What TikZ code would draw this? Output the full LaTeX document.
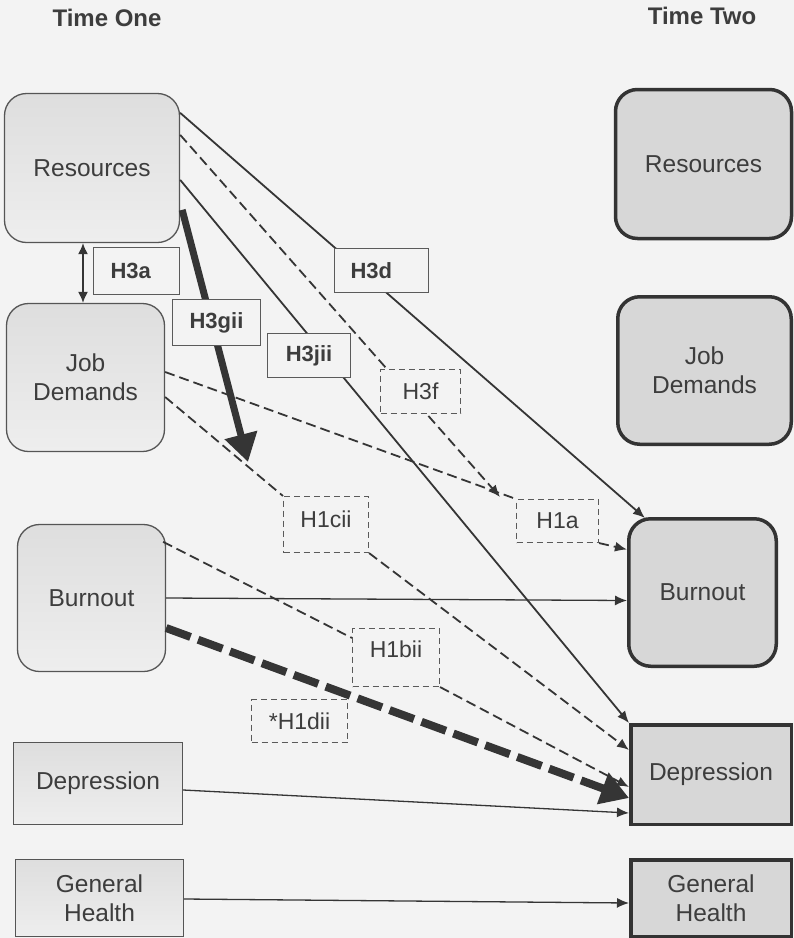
\documentclass[tikz,border=0pt]{standalone}
\usepackage{fontspec}
\setmainfont{Liberation Sans}
\usetikzlibrary{arrows.meta,calc}
\definecolor{bg}{HTML}{F3F3F3}
\definecolor{txt}{HTML}{3D3D3D}
\definecolor{ink}{HTML}{353535}
\definecolor{lfillA}{HTML}{DEDEDE}
\definecolor{lfillB}{HTML}{EEEEEE}
\definecolor{rfill}{HTML}{D7D7D7}
\definecolor{lborder}{HTML}{555555}
\definecolor{rborder}{HTML}{333333}
\definecolor{lab}{HTML}{5A5A5A}

\begin{document}
\begin{tikzpicture}[x=1pt,y=-1pt,
  every node/.style={text=txt, align=center, inner sep=0pt},
  vartext/.style={font=\fontsize{24.5}{29}\selectfont},
  t1round/.style={vartext, draw=lborder, line width=1.3pt, rounded corners=22pt, top color=lfillA, bottom color=lfillB},
  t1rect/.style={vartext, draw=lborder, line width=1.3pt, top color=lfillA, bottom color=lfillB},
  t2round/.style={vartext, draw=rborder, line width=3.5pt, rounded corners=22pt, fill=rfill},
  t2rect/.style={vartext, draw=rborder, line width=3.5pt, fill=rfill},
  hypsolid/.style={font=\fontsize{22}{26}\selectfont\bfseries, draw=lab, line width=1.1pt, fill=bg},
  hypdash/.style={font=\fontsize{23}{26}\selectfont, draw=lab, line width=1.1pt, dash pattern=on 6pt off 4pt, fill=bg},
  title/.style={font=\fontsize{24}{29}\selectfont\bfseries},
  link/.style={draw=ink, line width=1.8pt, -{Latex[length=12pt,width=10pt]}},
  thinlink/.style={link, line width=1.3pt},
  bothlink/.style={draw=ink, line width=1.5pt, {Latex[length=11pt,width=10pt]}-{Latex[length=11pt,width=10pt]}},
  dseg/.style={draw=ink, line width=1.8pt, dash pattern=on 10pt off 5pt},
  dlink/.style={link, dash pattern=on 10pt off 5pt},
  heavy/.style={draw=ink, line width=7pt, -{Triangle[length=28pt,width=32pt]}},
  heavydash/.style={heavy, line width=8pt, dash pattern=on 26pt off 8pt},
]
% page
\fill[bg] (0,0) rectangle (794,938);
\useasboundingbox (0,0) rectangle (794,938);

% column headings
\node[title] (tone) at (107,18) {Time One};
\node[title] (ttwo) at (702,16) {Time Two};

% variables at time one
\node[t1round, minimum width=175pt, minimum height=149pt] (res1) at (92,168) {Resources};
\node[t1round, minimum width=158pt, minimum height=148pt] (jd1) at (85.5,377.5) {Job\\Demands};
\node[t1round, minimum width=148pt, minimum height=147pt] (bo1) at (91.5,598) {Burnout};
\node[t1rect, minimum width=169pt, minimum height=82pt] (dep1) at (98,783.5) {Depression};
\node[t1rect, minimum width=168pt, minimum height=77pt] (gh1) at (99.5,898) {General\\Health};

% variables at time two
\node[t2round, minimum width=176pt, minimum height=149pt] (res2) at (703.5,164) {Resources};
\node[t2round, minimum width=173.5pt, minimum height=147.5pt] (jd2) at (704.5,370.5) {Job\\Demands};
\node[t2round, minimum width=147.5pt, minimum height=147.5pt] (bo2) at (702.5,592.5) {Burnout};
\node[t2rect, minimum width=160.5pt, minimum height=99.5pt] (dep2) at (711,774.5) {Depression};
\node[t2rect, minimum width=160.5pt, minimum height=76.5pt] (gh2) at (711,898) {General\\Health};

% moderation targets on the demand paths
\coordinate (modA) at (500,497);
\coordinate (modC) at (248,462);

% paths from resources (drawn beneath their labels)
\draw[link] ($(res1.north east)+(0,20)$) -- ($(bo2.north west)+(18,1)$);
\draw[dlink] ($(res1.north east)+(0,42)$) -- (modA);
\draw[link] ($(res1.north east)+(0,87)$) -- (dep2.north west);
\draw[heavy] ($(res1.north east)+(2,117)$) -- (modC);

% hypothesis labels
\node[hypsolid, minimum width=86pt, minimum height=47pt] (h3a) at (136.5,271) {\makebox[52pt][l]{H3a}};
\node[hypsolid, minimum width=94pt, minimum height=44pt] (h3d) at (381.5,270.5) {\makebox[62pt][l]{H3d}};
\node[hypsolid, minimum width=88pt, minimum height=46pt] (h3gii) at (216.5,322.5) {H3gii};
\node[hypsolid, minimum width=83pt, minimum height=44pt] (h3jii) at (309,355.5) {H3jii};
\node[hypdash, minimum width=80pt, minimum height=44pt] (h3f) at (420.5,391.5) {H3f};
\node[hypdash, minimum width=85pt, minimum height=56pt, text depth=10pt] (h1cii) at (326,524.5) {H1cii};
\node[hypdash, minimum width=82pt, minimum height=43pt] (h1a) at (557.5,521) {H1a};
\node[hypdash, minimum width=87pt, minimum height=58pt, text depth=16pt] (h1bii) at (396,657.5) {H1bii};
\node[hypdash, minimum width=96pt, minimum height=43pt] (h1dii) at (299.5,721) {*H1dii};

% resources -- job demands
\draw[bothlink] ($(res1.south)+(-9,0)$) -- ($(jd1.north)+(-2.5,0)$);

% job demands paths
\draw[dseg] ($(jd1.east)+(0,-5.5)$) -- (h1a.north west);
\draw[dlink] (h1a.south east) -- ($(bo2.west)+(0,-43)$);
\draw[dseg] ($(jd1.east)+(0,19.5)$) -- (h1cii.north west);
\draw[dlink] (h1cii.south east) -- ($(dep2.north west)+(0,27)$);

% burnout paths
\draw[dseg] ($(bo1.north east)+(-3,18)$) -- ($(h1bii.north west)+(0,10)$);
\draw[dlink] (h1bii.south east) -- ($(dep2.north west)+(0,64)$);
\draw[thinlink] (bo1.east) -- ($(bo2.west)+(0,8)$);
\draw[heavydash] ($(bo1.east)+(0,30)$) -- ($(dep2.north west)+(0,75)$);

% stability paths
\draw[thinlink] ($(dep1.east)+(0,6.5)$) -- ($(dep2.north west)+(0,90)$);
\draw[thinlink] ($(gh1.east)+(0,1)$) -- ($(gh2.west)+(0,5)$);
\end{tikzpicture}
\end{document}
